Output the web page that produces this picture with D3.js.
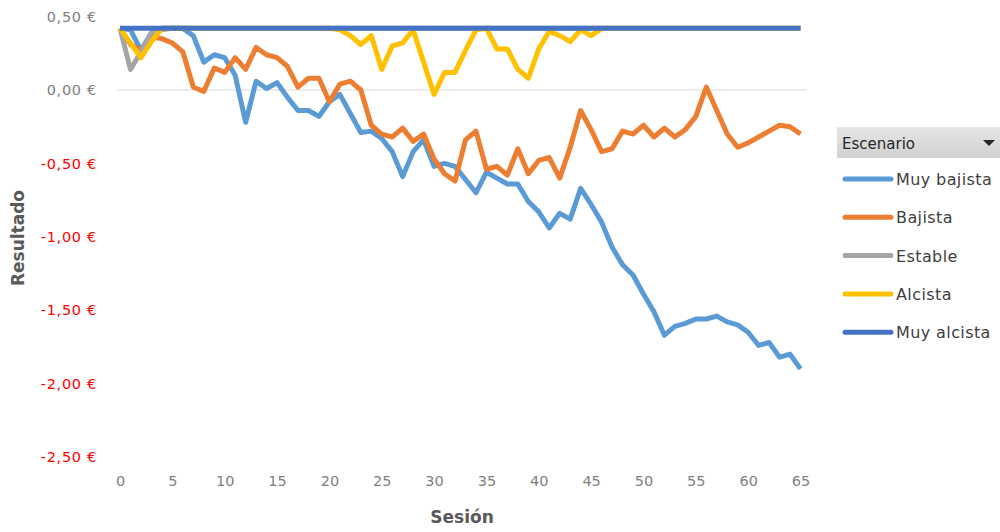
<!DOCTYPE html>
<html>
<head>
<meta charset="utf-8">
<script src="https://cdn.jsdelivr.net/npm/d3@7"></script>
<style>
  body { margin: 0; background: #fff; }
  svg { display: block; }
</style>
</head>
<body>
<script>
const sesiones = d3.range(0, 66);
const xTicks = [0, 5, 10, 15, 20, 25, 30, 35, 40, 45, 50, 55, 60, 65];
const yTicks = [0.5, 0, -0.5, -1, -1.5, -2, -2.5];

const escenarios = ['Muy bajista', 'Bajista', 'Estable', 'Alcista', 'Muy alcista'];
const colores = ['#5B9BD5', '#ED7D31', '#A5A5A5', '#FFC000', '#4472C4'];

const muyBajista = [0.42, 0.41, 0.27, 0.39, 0.42, 0.42, 0.42, 0.37, 0.19, 0.24,
    0.22, 0.10, -0.22, 0.06, 0.01, 0.05, -0.05, -0.14, -0.14, -0.18,
    -0.08, -0.03, -0.16, -0.29, -0.28, -0.33, -0.42, -0.59, -0.42, -0.34,
    -0.52, -0.50, -0.52, -0.61, -0.70, -0.56, -0.60, -0.64, -0.64, -0.76,
    -0.83, -0.94, -0.84, -0.88, -0.67, -0.78, -0.90, -1.07, -1.19, -1.26,
    -1.39, -1.51, -1.67, -1.61, -1.59, -1.56, -1.56, -1.54, -1.58, -1.60,
    -1.65, -1.74, -1.72, -1.82, -1.80, -1.90];
const bajista = [0.42, 0.31, 0.27, 0.36, 0.35, 0.32, 0.26, 0.02, -0.01, 0.15,
    0.12, 0.22, 0.14, 0.29, 0.24, 0.22, 0.16, 0.02, 0.08, 0.08,
    -0.08, 0.04, 0.06, 0.00, -0.24, -0.30, -0.32, -0.26, -0.35, -0.30,
    -0.47, -0.57, -0.62, -0.34, -0.28, -0.54, -0.52, -0.58, -0.40, -0.57,
    -0.48, -0.46, -0.60, -0.39, -0.14, -0.27, -0.42, -0.40, -0.28, -0.30,
    -0.24, -0.32, -0.26, -0.32, -0.27, -0.18, 0.02, -0.14, -0.30, -0.39,
    -0.36, -0.32, -0.28, -0.24, -0.25, -0.30];
const estable = [0.42, 0.14, 0.26, 0.39, 0.41, 0.42, 0.42, 0.42, 0.42, 0.42,
    0.42, 0.42, 0.42, 0.42, 0.42, 0.42, 0.42, 0.42, 0.42, 0.42,
    0.42, 0.42, 0.42, 0.42, 0.42, 0.42, 0.42, 0.42, 0.42, 0.42,
    0.42, 0.42, 0.42, 0.42, 0.42, 0.42, 0.42, 0.42, 0.42, 0.42,
    0.42, 0.42, 0.42, 0.42, 0.42, 0.42, 0.42, 0.42, 0.42, 0.42,
    0.42, 0.42, 0.42, 0.42, 0.42, 0.42, 0.42, 0.42, 0.42, 0.42,
    0.42, 0.42, 0.42, 0.42, 0.42, 0.42];
const alcista = [0.42, 0.32, 0.22, 0.33, 0.42, 0.42, 0.42, 0.42, 0.42, 0.42,
    0.42, 0.42, 0.42, 0.42, 0.42, 0.42, 0.42, 0.42, 0.42, 0.42,
    0.42, 0.41, 0.37, 0.31, 0.37, 0.14, 0.30, 0.32, 0.41, 0.19,
    -0.03, 0.12, 0.12, 0.27, 0.41, 0.42, 0.28, 0.28, 0.14, 0.08,
    0.28, 0.40, 0.37, 0.33, 0.41, 0.37, 0.42, 0.42, 0.42, 0.42,
    0.42, 0.42, 0.42, 0.42, 0.42, 0.42, 0.42, 0.42, 0.42, 0.42,
    0.42, 0.42, 0.42, 0.42, 0.42, 0.42];
const muyAlcista = [0.42, 0.42, 0.42, 0.42, 0.42, 0.42, 0.42, 0.42, 0.42, 0.42,
    0.42, 0.42, 0.42, 0.42, 0.42, 0.42, 0.42, 0.42, 0.42, 0.42,
    0.42, 0.42, 0.42, 0.42, 0.42, 0.42, 0.42, 0.42, 0.42, 0.42,
    0.42, 0.42, 0.42, 0.42, 0.42, 0.42, 0.42, 0.42, 0.42, 0.42,
    0.42, 0.42, 0.42, 0.42, 0.42, 0.42, 0.42, 0.42, 0.42, 0.42,
    0.42, 0.42, 0.42, 0.42, 0.42, 0.42, 0.42, 0.42, 0.42, 0.42,
    0.42, 0.42, 0.42, 0.42, 0.42, 0.42];

const series = [muyBajista, bajista, estable, alcista, muyAlcista];

function main() {
    const width = 1000, height = 532;
    const font = '"DejaVu Sans", sans-serif';

    const svg = d3.select('body').append('svg')
        .attr('width', width)
        .attr('height', height);

    const x = d3.scaleLinear().domain([0, 65]).range([120, 800.5]);
    const y = d3.scaleLinear().domain([-2.5, 0.5]).range([457, 16.6]);

    const fmt = v => d3.format('.2f')(v).replace('.', ',').replace('−', '-') + ' €';

    // eje y, solo etiquetas
    const yAxis = svg.append('g')
        .attr('transform', 'translate(97,0)')
        .call(d3.axisLeft(y).tickValues(yTicks).tickSize(0).tickPadding(0).tickFormat(fmt));
    yAxis.select('.domain').remove();
    yAxis.selectAll('text')
        .style('font-family', font)
        .style('font-size', '14.5px')
        .style('letter-spacing', '0.7px')
        .attr('fill', d => d < 0 ? '#FF0000' : '#7F7F7F');

    // linea horizontal en 0
    svg.append('line')
        .attr('x1', x(0) - 3).attr('x2', x(65) + 6)
        .attr('y1', y(0)).attr('y2', y(0))
        .attr('stroke', '#D9D9D9')
        .attr('stroke-width', 1.2);

    const xAxis = svg.append('g')
        .attr('transform', 'translate(0,476)')
        .call(d3.axisBottom(x).tickValues(xTicks).tickSize(0).tickPadding(0));
    xAxis.select('.domain').remove();
    xAxis.selectAll('text')
        .style('font-family', font)
        .style('font-size', '14.5px')
        .attr('fill', '#7F7F7F');

    svg.append('text')
        .attr('x', 462).attr('y', 523)
        .attr('text-anchor', 'middle')
        .style('font-family', font)
        .style('font-size', '17px')
        .style('font-weight', 'bold')
        .attr('fill', '#595959')
        .text('Sesión');

    svg.append('text')
        .attr('transform', 'translate(24,238) rotate(-90)')
        .attr('text-anchor', 'middle')
        .style('font-family', font)
        .style('font-size', '17px')
        .style('font-weight', 'bold')
        .attr('fill', '#595959')
        .text('Resultado');

    const line = d3.line()
        .x((d, i) => x(sesiones[i]))
        .y(d => y(d));

    svg.append('g').selectAll('path')
        .data(series)
        .enter().append('path')
        .attr('d', d => line(d))
        .attr('fill', 'none')
        .attr('stroke', (d, i) => colores[i])
        .attr('stroke-width', 5)
        .attr('stroke-linejoin', 'round');

    // leyenda
    const leg = svg.append('g');
    const grad = svg.append('defs').append('linearGradient')
        .attr('id', 'hdr').attr('x1', 0).attr('x2', 0).attr('y1', 0).attr('y2', 1);
    grad.append('stop').attr('offset', '0%').attr('stop-color', '#E6E6E6');
    grad.append('stop').attr('offset', '100%').attr('stop-color', '#D0D0D0');

    leg.append('rect')
        .attr('x', 837).attr('y', 127)
        .attr('width', 163).attr('height', 31)
        .attr('fill', 'url(#hdr)');
    leg.append('text')
        .attr('x', 842).attr('y', 149)
        .style('font-family', font)
        .style('font-size', '15px')
        .attr('fill', '#262626')
        .text('Escenario');
    leg.append('path')
        .attr('d', 'M983,140 L995,140 L989,146 Z')
        .attr('fill', '#262626');

    const item = leg.selectAll('g.item')
        .data(escenarios)
        .enter().append('g')
        .attr('class', 'item')
        .attr('transform', (d, i) => 'translate(0,' + (179 + i * 38.3) + ')');
    item.append('line')
        .attr('x1', 845).attr('x2', 891)
        .attr('stroke', (d, i) => colores[i])
        .attr('stroke-width', 5)
        .attr('stroke-linecap', 'round');
    item.append('text')
        .attr('x', 896).attr('y', 6)
        .style('font-family', font)
        .style('font-size', '16px')
        .style('letter-spacing', '0.4px')
        .attr('fill', '#404040')
        .text(d => d);
}
window.onload = main;
</script>
</body>
</html>
